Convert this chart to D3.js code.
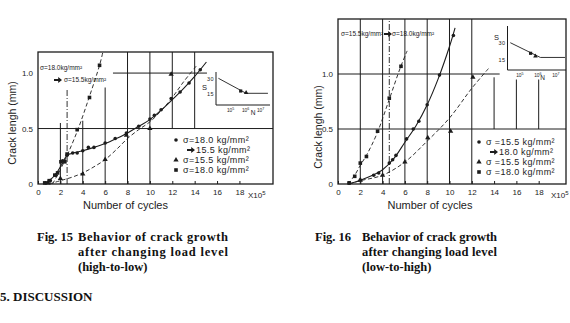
<!DOCTYPE html>
<html>
<head>
<meta charset="utf-8">
<script src="https://cdn.jsdelivr.net/npm/d3@7"></script>
<style>
body{margin:0;background:#fff;}
svg{display:block;}
</style>
</head>
<body>
<svg id="chart"></svg>
<script>
var width = 570;
var height = 323;
var ink = "#1c1c1c";

// ---- Fig. 15 (high-to-low) : crack length (mm) vs cycles (x10^5)
var f15Circles = [[0.7,0.01],[1.1,0.03],[1.6,0.08],[2.2,0.21],[2.6,0.26],[3.1,0.28],[3.5,0.28],[4.0,0.30],[4.5,0.33],[5.0,0.33],[6.0,0.37],[6.9,0.41],[7.9,0.46],[9.0,0.52],[10.0,0.585],[10.4,0.62],[11.0,0.67],[11.9,0.77],[12.7,0.83],[13.5,0.91],[14.5,1.03]];
var f15Squares = [[0.6,0.01],[1.0,0.03],[1.5,0.08],[1.75,0.1],[2.05,0.2],[2.4,0.2],[2.6,0.27],[3.5,0.49],[4.6,0.78],[5.5,1.07]];
var f15Triangles = [[0.9,0.01],[2.0,0.05],[4.0,0.09],[6.0,0.22],[7.9,0.44],[10.0,0.5],[11.9,0.99]];
var f15FitChanged = [[0.5,0],[1.0,0.03],[1.6,0.09],[2.2,0.19],[2.6,0.26],[3.0,0.275],[4,0.30],[5,0.33],[6,0.365],[7,0.41],[8,0.46],[9,0.52],[10,0.58],[11,0.665],[12,0.76],[13,0.86],[14,0.97],[15.05,1.1]];
var f15FitHigh = [[1.3,0],[2.0,0.13],[2.7,0.28],[3.6,0.5],[4.6,0.79],[5.5,1.07],[5.8,1.19]];
var f15FitLow = [[1.0,0],[2,0.03],[3,0.06],[4,0.1],[5,0.155],[6,0.22],[7,0.31],[8,0.41],[9,0.49],[10,0.56],[11,0.66],[12,0.78],[13,0.92],[14.2,1.07]];
var f15VGrid = [[2,0,0.55],[4,0,0.57],[6,0,0.87],[8,0,1.19],[10,0,1.19],[12,0.5,1.19],[14,0.5,1.19]];
var f15HGrid = [[0.5,0,21],[1.0,6.7,15.1]];
var f15Change = [2.6,0,0.85];
var f15SnLine = [[1.7e4,30.7],[1.2e6,15.7],[3.4e7,15.7]];
var f15SnSquare = [[5.2e5,18]];
var f15SnTriangle = [[1.2e6,16.3]];
var f15Legend = ["σ=18.0 kg/mm²", "15.5 kg/mm²", "σ=15.5 kg/mm²", "σ=18.0 kg/mm²"];

// ---- Fig. 16 (low-to-high)
var f16Circles = [[1.0,0.01],[2.0,0.036],[3.2,0.08],[3.65,0.1],[4.6,0.19],[4.9,0.22],[5.2,0.26],[6.15,0.41],[6.75,0.5],[7.25,0.57],[8.0,0.72],[9.1,0.99],[10.35,1.35]];
var f16Squares = [[1.0,0.01],[1.5,0.07],[2.0,0.19],[2.55,0.25],[3.55,0.48],[4.6,0.78],[5.65,1.07]];
var f16Triangles = [[2.0,0.035],[4.0,0.08],[6.0,0.2],[8.05,0.42],[10.1,0.48],[12.1,0.97]];
var f16FitChanged = [[0.9,0],[2,0.035],[3,0.075],[4,0.13],[5,0.23],[6,0.38],[7,0.53],[8,0.72],[9,0.96],[10,1.25],[10.5,1.42]];
var f16FitHigh = [[0.9,0],[1.5,0.08],[2,0.17],[2.6,0.27],[3.5,0.46],[4.6,0.77],[5.6,1.06],[6.2,1.21]];
var f16FitLow = [[1.0,0],[2,0.03],[4,0.08],[6,0.2],[8,0.39],[10,0.6],[12,0.87],[13.5,1.05]];
var f16VGrid = [[2,0,1.5],[4,0,1.5],[6,0,1.5],[8,0,1.5],[10,0,1.5],[12,0,1.5],[14,0.5,0.97],[16,0.5,0.95],[18,0.5,0.95]];
var f16HGrid = [[0.5,0,20.45],[1.0,0,14.5]];
var f16Change = [4.6,0,1.5];
var f16SnLine = [[3.2e4,30],[1.5e6,17.2],[3.5e7,17.2]];
var f16SnSquare = [[4.3e5,20.8]];
var f16SnTriangle = [[8e5,18.4]];
var f16Legend = ["σ =15.5 kg/mm²", "18.0 kg/mm²", "σ =15.5 kg/mm²", "σ =18.0 kg/mm²"];

var xTicks = [0,2,4,6,8,10,12,14,16,18];
var yTicks = [0,0.5,1.0];
var snYTicks = [15,30];
var snXTicks = [1e5,1e6,1e7];
var snXExp = ["5","6","7"];

var svg = d3.select("#chart").attr("width", width).attr("height", height)
  .style("font-family", "'Liberation Sans', Arial, sans-serif");

// bold arrow like the printed one
function arrow(g, x, y){
    g.append("path")
      .attr("d", "M0,-1.1L4.2,-1.1L4.2,-3L8,0L4.2,3L4.2,1.1L0,1.1Z")
      .attr("transform", "translate(" + x + "," + y + ")")
      .attr("fill", ink);
}

function drawPanel(p){
    var g = svg.append("g");
    var x = d3.scaleLinear().domain([0, p.xMax]).range([p.left, p.right]);
    var y = d3.scaleLinear().domain([0, p.yMax]).range([p.bottom, p.top]);

    // grid lines (partial, as on the plate)
    g.selectAll(".vg").data(p.vGrid).enter().append("line")
      .attr("x1", d => x(d[0])).attr("x2", d => x(d[0]))
      .attr("y1", d => y(d[1])).attr("y2", d => y(d[2]))
      .attr("stroke", ink).attr("stroke-width", 1);
    g.selectAll(".hg").data(p.hGrid).enter().append("line")
      .attr("x1", d => x(d[1])).attr("x2", d => x(d[2]))
      .attr("y1", d => y(d[0])).attr("y2", d => y(d[0]))
      .attr("stroke", ink).attr("stroke-width", 1);
    // load change (dash-dot)
    g.append("line")
      .attr("x1", x(p.change[0])).attr("x2", x(p.change[0]))
      .attr("y1", y(p.change[1])).attr("y2", y(p.change[2]))
      .attr("stroke", ink).attr("stroke-width", 0.9)
      .attr("stroke-dasharray", "6,2,1,2");

    // frame
    g.append("rect")
      .attr("x", x(0)).attr("y", y(p.yMax))
      .attr("width", x(p.xMax) - x(0)).attr("height", y(0) - y(p.yMax))
      .attr("fill", "none").attr("stroke", ink).attr("stroke-width", 1.3);

    // axes
    var xAxis = d3.axisBottom(x).tickValues(xTicks).tickSize(-3).tickPadding(5)
      .tickFormat(d3.format("d"));
    var gx = g.append("g").attr("transform", "translate(0," + y(0) + ")").call(xAxis);
    gx.select(".domain").remove();
    gx.selectAll("line").attr("stroke", ink);
    gx.selectAll("text").attr("font-size", 8).attr("fill", ink).attr("font-family", null);

    var yAxis = d3.axisLeft(y).tickValues(yTicks).tickSize(0).tickPadding(5)
      .tickFormat(d => d === 0 ? "0" : d.toFixed(1));
    var gy = g.append("g").attr("transform", "translate(" + x(0) + ",0)").call(yAxis);
    gy.select(".domain").remove();
    gy.selectAll("text").attr("font-size", 8).attr("fill", ink).attr("font-family", null);

    var xt = g.append("text").attr("x", p.x10Pos).attr("y", y(0) + 14)
      .attr("font-size", 8).attr("fill", ink).text("X10");
    xt.append("tspan").attr("dy", -3).attr("font-size", 6).text("5");

    g.append("text").attr("x", (p.left + p.right) / 2 - p.xLabelShift).attr("y", y(0) + 25)
      .attr("text-anchor", "middle").attr("font-size", 11).attr("fill", ink)
      .text("Number of cycles");
    g.append("text")
      .attr("transform", "translate(" + p.yLabelX + "," + p.yLabelY + ") rotate(-90)")
      .attr("text-anchor", "middle").attr("font-size", 10.5).attr("fill", ink)
      .text("Crack lengh (mm)");

    // fitted curves
    var line = d3.line().x(d => x(d[0])).y(d => y(d[1])).curve(d3.curveCatmullRom);
    g.append("path").attr("d", line(p.fitChanged)).attr("fill", "none")
      .attr("stroke", ink).attr("stroke-width", 1.1);
    g.append("path").attr("d", line(p.fitHigh)).attr("fill", "none")
      .attr("stroke", ink).attr("stroke-width", 0.9).attr("stroke-dasharray", "4,2.5");
    g.append("path").attr("d", line(p.fitLow)).attr("fill", "none")
      .attr("stroke", ink).attr("stroke-width", 0.9).attr("stroke-dasharray", "4,2.5");

    // data points
    var sq = d3.symbol(d3.symbolSquare).size(13);
    var tri = d3.symbol(d3.symbolTriangle).size(12);
    g.selectAll(".sq").data(p.squares).enter().append("path")
      .attr("d", sq).attr("transform", d => "translate(" + x(d[0]) + "," + y(d[1]) + ")")
      .attr("fill", ink);
    g.selectAll(".tr").data(p.triangles).enter().append("path")
      .attr("d", tri).attr("transform", d => "translate(" + x(d[0]) + "," + y(d[1]) + ")")
      .attr("fill", ink);
    g.selectAll(".ci").data(p.circles).enter().append("circle")
      .attr("cx", d => x(d[0])).attr("cy", d => y(d[1])).attr("r", 1.8)
      .attr("fill", ink);

    // legend
    var lg = g.append("g").attr("font-size", 9).attr("fill", ink);
    var rows = p.legendRows;
    lg.append("circle").attr("cx", p.legX).attr("cy", rows[0]).attr("r", 1.8).attr("fill", ink);
    lg.append("path").attr("d", tri).attr("transform", "translate(" + p.legX + "," + rows[2] + ")").attr("fill", ink);
    lg.append("path").attr("d", sq).attr("transform", "translate(" + p.legX + "," + rows[3] + ")").attr("fill", ink);
    [0,2,3].forEach(function(i){
        lg.append("text").attr("x", p.legTextX).attr("y", rows[i] + 3).attr("letter-spacing", 0.4)
          .text(p.legend[i]);
    });
    arrow(lg, p.legTextX + p.arrowShift, rows[1]);
    lg.append("text").attr("x", p.legTextX + p.arrowShift + 9).attr("y", rows[1] + 3)
      .attr("letter-spacing", 0.4).text(p.legend[1]);

    // S-N inset
    var sx = d3.scaleLog().domain(p.snX).range(p.snXRange);
    var sy = d3.scaleLinear().domain(p.snY).range(p.snYRange);
    var ig = g.append("g");
    ig.append("line").attr("x1", sx.range()[0]).attr("x2", sx.range()[0])
      .attr("y1", sy.range()[0]).attr("y2", sy.range()[1]).attr("stroke", ink);
    ig.append("line").attr("x1", sx.range()[0]).attr("x2", sx.range()[1])
      .attr("y1", sy.range()[0]).attr("y2", sy.range()[0]).attr("stroke", ink);
    var sl = d3.line().x(d => sx(d[0])).y(d => sy(d[1]));
    ig.append("path").attr("d", sl(p.snLine)).attr("fill", "none").attr("stroke", ink).attr("stroke-width", 0.9);
    ig.selectAll(".ss").data(p.snSquare).enter().append("path")
      .attr("d", d3.symbol(d3.symbolSquare).size(10))
      .attr("transform", d => "translate(" + sx(d[0]) + "," + sy(d[1]) + ")").attr("fill", ink);
    ig.selectAll(".st").data(p.snTriangle).enter().append("path")
      .attr("d", d3.symbol(d3.symbolTriangle).size(9))
      .attr("transform", d => "translate(" + sx(d[0]) + "," + sy(d[1]) + ")").attr("fill", ink);
    ig.selectAll(".sty").data(snYTicks).enter().append("text")
      .attr("x", sx.range()[0] - 2).attr("y", d => sy(d) + 2)
      .attr("text-anchor", "end").attr("font-size", 5.5).attr("letter-spacing", 0.5).attr("fill", ink)
      .text(d => d);
    var stx = ig.selectAll(".stx").data(snXTicks).enter().append("text")
      .attr("x", d => sx(d) - 3).attr("y", sy.range()[0] + 6.5)
      .attr("font-size", 4.8).attr("fill", ink).text("10");
    stx.append("tspan").attr("dy", -2).attr("font-size", 3.6).text((d, i) => snXExp[i]);
    ig.append("text").attr("x", p.sPos[0]).attr("y", p.sPos[1])
      .attr("font-size", 7.5).attr("fill", ink).text("S");
    ig.append("text").attr("x", sx(p.nPos)).attr("y", sy.range()[0] + 9.5)
      .attr("font-size", 6.5).attr("fill", ink).text("N");

    return {x: x, y: y, g: g};
}

var left = drawPanel({
    left: 38, right: 273, top: 52, bottom: 184, xMax: 21, yMax: 1.19,
    vGrid: f15VGrid, hGrid: f15HGrid, change: f15Change,
    circles: f15Circles, squares: f15Squares, triangles: f15Triangles,
    fitChanged: f15FitChanged, fitHigh: f15FitHigh, fitLow: f15FitLow,
    x10Pos: 248, xLabelShift: 30, yLabelX: 16, yLabelY: 123,
    legend: f15Legend, legendRows: [140,150,160,170], legX: 176, legTextX: 183, arrowShift: 4,
    snLine: f15SnLine, snSquare: f15SnSquare, snTriangle: f15SnTriangle,
    snX: [Math.pow(10,4.07), Math.pow(10,7.67)], snXRange: [216, 270],
    snY: [4, 37], snYRange: [105, 72], nPos: 2.4e6, sPos: [202, 90]
});

var right = drawPanel({
    left: 338, right: 566, top: 19, bottom: 184, xMax: 20.45, yMax: 1.5,
    vGrid: f16VGrid, hGrid: f16HGrid, change: f16Change,
    circles: f16Circles, squares: f16Squares, triangles: f16Triangles,
    fitChanged: f16FitChanged, fitHigh: f16FitHigh, fitLow: f16FitLow,
    x10Pos: 551, xLabelShift: 22, yLabelX: 322, yLabelY: 127,
    legend: f16Legend, legendRows: [142,152,162,172], legX: 479, legTextX: 486, arrowShift: 4,
    snLine: f16SnLine, snSquare: f16SnSquare, snTriangle: f16SnTriangle,
    snX: [Math.pow(10,4.35), Math.pow(10,7.6)], snXRange: [507.5, 566],
    snY: [6.3, 44.5], snYRange: [70, 26], nPos: 1.5e6, sPos: [494, 40]
});

// load change notes
var n1 = left.g.append("g").attr("font-size", 6.5).attr("fill", ink);
n1.append("text").attr("x", 40).attr("y", 70).text("σ=18.0kg/mm²");
arrow(n1, 54, 80);
n1.append("text").attr("x", 64).attr("y", 82).text("σ=15.5kg/mm²");

var n2 = right.g.append("g").attr("font-size", 6.5).attr("fill", ink);
n2.append("text").attr("x", 341).attr("y", 36).text("σ=15.5kg/mm²");
arrow(n2, 384, 34);
n2.append("text").attr("x", 392).attr("y", 36).text("σ=18.0kg/mm²");

// captions
var cap = svg.append("g").attr("font-family", "'Liberation Serif', 'Times New Roman', serif")
  .attr("font-weight", "bold").attr("font-size", 12.5).attr("fill", "#111");
cap.append("text").attr("x", 37).attr("y", 241).text("Fig. 15");
cap.append("text").attr("x", 78).attr("y", 241).attr("textLength", 150).attr("lengthAdjust", "spacing").text("Behavior of crack growth");
cap.append("text").attr("x", 78).attr("y", 256).attr("textLength", 150).attr("lengthAdjust", "spacing").text("after changing load level");
cap.append("text").attr("x", 78).attr("y", 271).text("(high-to-low)");

cap.append("text").attr("x", 315).attr("y", 241).text("Fig. 16");
cap.append("text").attr("x", 362).attr("y", 241).attr("textLength", 135).attr("lengthAdjust", "spacing").text("Behavior of crack growth");
cap.append("text").attr("x", 362).attr("y", 256).attr("textLength", 135).attr("lengthAdjust", "spacing").text("after changing load level");
cap.append("text").attr("x", 362).attr("y", 271).text("(low-to-high)");

cap.append("text").attr("x", 0).attr("y", 301).attr("font-size", 13).text("5. DISCUSSION");
</script>
</body>
</html>
